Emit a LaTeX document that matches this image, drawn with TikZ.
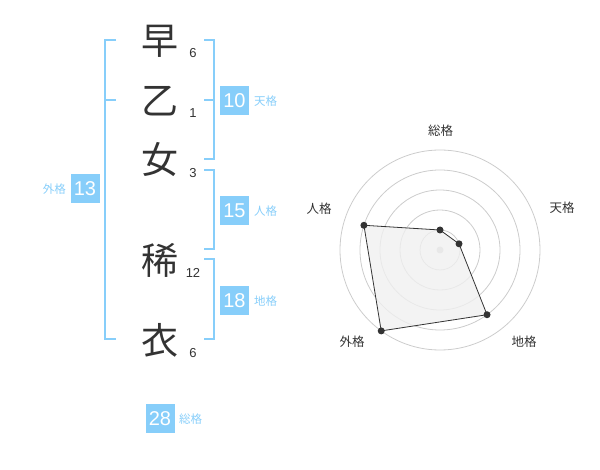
\documentclass[tikz,border=0pt]{standalone}
\usepackage{fontspec}
\setmainfont{Liberation Sans}
\newfontfamily\jp{Noto Sans CJK JP}
\definecolor{sky}{HTML}{87CEFA}
\definecolor{ink}{HTML}{333333}
\definecolor{ring}{HTML}{CCCCCC}
\definecolor{area}{HTML}{F0F0F0}
\begin{document}
\begin{tikzpicture}[x=1pt,y=-1pt,
  kanji/.style={font=\jp\fontsize{37}{37}\selectfont,text=ink,inner sep=0pt},
  strokes/.style={font=\fontsize{13}{13}\selectfont,text=ink,inner sep=0pt},
  numbox/.style={fill=sky,text=white,minimum width=29pt,minimum height=29pt,inner sep=0pt,font=\fontsize{20}{20}\selectfont},
  klabel/.style={font=\jp\fontsize{11.5}{12}\selectfont,text=sky,inner sep=0pt},
  rlabel/.style={font=\jp\fontsize{12.5}{13}\selectfont,text=ink,inner sep=0pt},
  bracket/.style={draw=sky,line width=2pt},
  pt/.style={circle,fill=ink,inner sep=0pt,minimum size=7pt}]
\useasboundingbox (0,0) rectangle (600,470);
% characters
\node[kanji] (c1) at (160,41) {早};
\node[kanji] (c2) at (160,101) {乙};
\node[kanji] (c3) at (160,160) {女};
\node[kanji] (c4) at (160,260) {稀};
\node[kanji] (c5) at (160,340) {衣};
\node[strokes] (s1) at (193,53) {6};
\node[strokes] (s2) at (193,113) {1};
\node[strokes] (s3) at (193,173) {3};
\node[strokes] (s4) at (193,273) {12};
\node[strokes] (s5) at (193,353) {6};
% brackets
\draw[bracket] (116,40) -- (105,40) -- (105,339) -- (116,339);
\draw[bracket] (105,100) -- (116,100);
\draw[bracket] (204,40) -- (214,40) -- (214,159) -- (204,159);
\draw[bracket] (204,100) -- (214,100);
\draw[bracket] (204,170) -- (214,170) -- (214,249) -- (204,249);
\draw[bracket] (204,259) -- (214,259) -- (214,339) -- (204,339);
% boxes
\node[numbox] (ten) at (234.5,100.5) {10};
\node[klabel,anchor=west] (tenl) at (254,101) {天格};
\node[numbox] (jin) at (234.5,210.5) {15};
\node[klabel,anchor=west] (jinl) at (254,211) {人格};
\node[numbox] (chi) at (234.5,300.5) {18};
\node[klabel,anchor=west] (chil) at (254,301) {地格};
\node[numbox] (gai) at (85,188.5) {13};
\node[klabel,anchor=east] (gail) at (66,189) {外格};
\node[numbox] (sou) at (160,418.5) {28};
\node[klabel,anchor=west] (soul) at (179,419) {総格};
% radar
\begin{scope}[shift={(440,250)},y=1pt]
  \foreach \r in {20,40,60,80,100} \draw[ring,line width=0.8pt] (0,0) circle[radius=\r];
  \fill[ring] (0,0) circle[radius=3.5];
  \coordinate (p1) at (90:20);
  \coordinate (p2) at (18:20);
  \coordinate (p3) at (-54:80);
  \coordinate (p4) at (-126:100);
  \coordinate (p5) at (162:80);
  \filldraw[fill=area,fill opacity=0.8,draw=ink,line width=0.8pt] (p1) -- (p2) -- (p3) -- (p4) -- (p5) -- cycle;
  \foreach \p in {p1,p2,p3,p4,p5} \node[pt] at (\p) {};
  \node[rlabel] (l1) at (0.7,119.3) {総格};
  \node[rlabel] (l2) at (122,42) {天格};
  \node[rlabel] (l3) at (-121,41) {人格};
  \node[rlabel] (l4) at (-88,-92) {外格};
  \node[rlabel] (l5) at (84,-92) {地格};
\end{scope}
\end{tikzpicture}
\end{document}
